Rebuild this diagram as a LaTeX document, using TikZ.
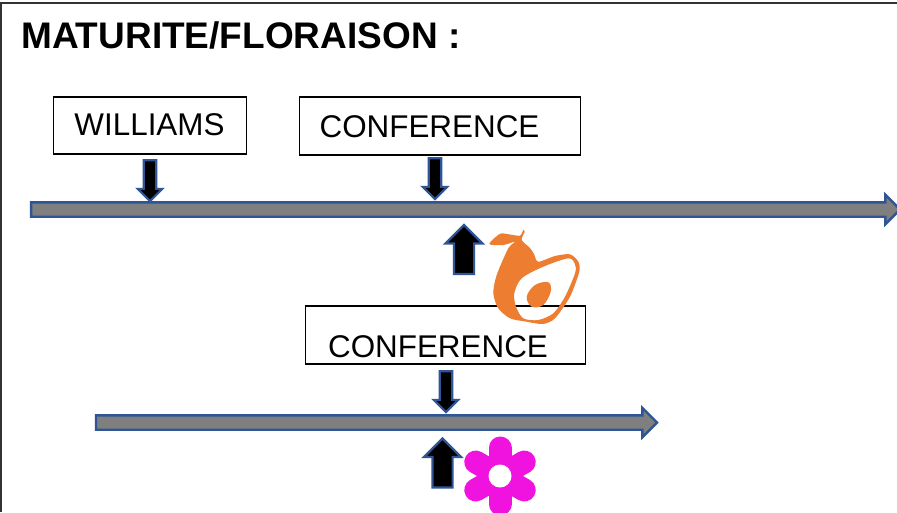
\documentclass[tikz,border=0pt]{standalone}
\usepackage{fontspec}
\setmainfont{Liberation Sans}
\usetikzlibrary{shapes.arrows}
\definecolor{blk}{HTML}{2F5597}
\definecolor{barfill}{HTML}{7F7F7F}
\definecolor{fruit}{HTML}{ED7D31}
\definecolor{bloom}{HTML}{F013E0}
\tikzset{
  x=1pt,y=-1pt,
  label box/.style={draw=black,line width=1.5pt,fill=white,inner sep=0pt,outer sep=0pt,anchor=north west},
  label text/.style={font=\fontsize{31.4}{31.4}\selectfont,text=black,inner sep=0pt,anchor=base},
  timeline/.style={single arrow,draw=blk,fill=barfill,line width=2.4pt,inner sep=0pt,inner ysep=6pt,outer sep=0pt,anchor=west,
    single arrow head extend=7.5pt,single arrow tip angle=90},
  marker/.style={single arrow,draw=blk,fill=black,line width=2.2pt,inner sep=0pt,outer sep=0pt,
    single arrow tip angle=90},
  down mark/.style={marker,rotate=-90,inner ysep=5.2pt,minimum height=41pt,single arrow head extend=6pt},
  up mark/.style={marker,rotate=90,inner ysep=9pt,minimum height=49pt,single arrow head extend=8.5pt},
  petal/.style={draw=bloom,line width=23pt,line cap=round},
}
\begin{document}
\begin{tikzpicture}
\useasboundingbox (0,0) rectangle (897,512);
\clip (0,0) rectangle (897,512);
\fill[white] (0,0) rectangle (897,512);
% frame
\draw[black!80,line width=1.3pt] (1,512) -- (1,3) -- (897,3);
\node[font=\fontsize{37}{37}\selectfont\bfseries,inner sep=0pt,anchor=base west] (title) at (21,48) {MATURITE/FLORAISON :};
% timelines
\node[timeline,minimum height=869pt] (lineA) at (31,209.5) {};
\node[timeline,minimum height=561pt] (lineB) at (96,422.5) {};
% boxes
\node[label box,minimum width=193pt,minimum height=57pt] (boxW) at (53.7,97) {};
\node[label box,minimum width=281pt,minimum height=58pt] (boxC) at (299.7,97) {};
\node[label box,minimum width=280pt,minimum height=58pt] (boxD) at (305.7,306) {};
\node[label text] (txtW) at (149.5,135) {WILLIAMS};
\node[label text] (txtC) at (429.5,137) {CONFERENCE};
\node[label text] (txtD) at (438,357) {CONFERENCE};
% markers
\node[down mark] (downW) at (150,177.5) {};
\node[down mark] (downC) at (435,175.5) {};
\node[down mark] (downD) at (446,388.5) {};
\node[up mark] (upA) at (464,254.5) {};
\node[up mark] (upB) at (442.5,468) {};
% pear and avocado
\fill[fruit,even odd rule]
  plot[smooth cycle,tension=0.45] coordinates {(489.3,244) (500,233.8) (510,234.5) (520,235.7) (523.3,230) (524.6,232) (521.7,240)
   (530,248) (534,254) (538.3,261.7) (555,256) (570,254.3) (578.3,261.7) (579.3,271.7) (570,296.7) (555,318.3) (543,324)
   (526.7,321.7) (510,318.3) (498,308) (493.3,293) (496.7,275) (508.3,248.3) (515,241.7) (503.3,245)}
  plot[smooth cycle,tension=0.5] coordinates {(514.3,293.3) (521.7,278.3) (543.3,266.7) (568.3,258.3) (575,264.3) (575,273.3)
   (565,296.7) (553.3,313.3) (538.3,320) (523.3,318.3) (516,306.7)};
\fill[fruit] plot[smooth cycle,tension=0.6] coordinates {(526.7,296.7) (535,285) (548.3,282.3) (550.7,291.7) (543.3,305) (531.7,306.7)};
% flower
\foreach \a in {30,90,150,210,270,330}{
  \draw[petal] (500,476) -- ++(\a:28);
}
\fill[white] (500,476) circle[radius=11.5];
\end{tikzpicture}
\end{document}
